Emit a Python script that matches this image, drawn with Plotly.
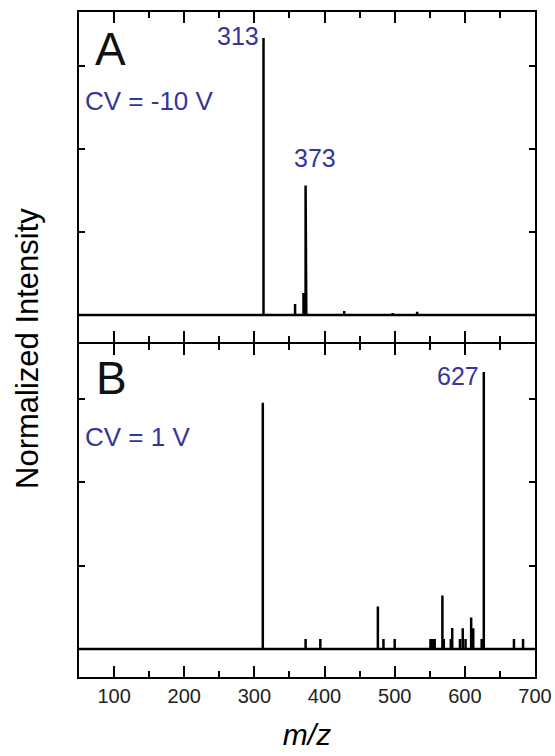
import plotly.graph_objects as go

# ---- data ----
mz_a = [313, 358, 370, 373, 374, 428, 497, 532]
int_a = [0.834, 0.033, 0.066, 0.39, 0.295, 0.012, 0.006, 0.010]

mz_b = [312, 373, 394, 476, 484, 500, 551, 553, 555, 557, 568, 570, 580, 582,
        593, 597, 601, 609, 612, 624, 627, 670, 683]
int_b = [0.737, 0.03, 0.03, 0.127, 0.03, 0.03, 0.03, 0.03, 0.03, 0.03, 0.16, 0.03,
         0.03, 0.063, 0.03, 0.062, 0.03, 0.094, 0.062, 0.03, 0.829, 0.03, 0.03]

x_ticks = [100, 200, 300, 400, 500, 600, 700]
x_range = [50, 700]


def sticks(mz, inten):
    xs, ys = [x_range[0]], [0]
    for m, h in sorted(zip(mz, inten)):
        xs += [m, m, m]
        ys += [0, h, 0]
    xs.append(x_range[1])
    ys.append(0)
    return xs, ys


FONT = "Liberation Sans, Arial, sans-serif"
BLUE = "#35359a"

fig = go.Figure()
xa, ya = sticks(mz_a, int_a)
xb, yb = sticks(mz_b, int_b)
fig.add_trace(go.Scatter(x=xa, y=ya, mode="lines", line=dict(color="black", width=2.5),
                         xaxis="x", yaxis="y", showlegend=False, hoverinfo="skip"))
fig.add_trace(go.Scatter(x=xb, y=yb, mode="lines", line=dict(color="black", width=2.5),
                         xaxis="x2", yaxis="y2", showlegend=False, hoverinfo="skip"))

H = 665.0
# panel A: 12..342 px, panel B: 344..677 px (axis lines meet at 343)
dom_a = [(677 - 342) / H, 1]
dom_b = [0, (677 - 344) / H]

common_x = dict(range=x_range, showgrid=False, zeroline=False, showline=True,
                linecolor="black", linewidth=2, mirror="allticks", ticks="inside",
                ticklen=11, tickwidth=2, tickcolor="black", tickvals=x_ticks,
                automargin=False,
                minor=dict(ticks="inside", ticklen=6, tickwidth=2, tickcolor="black", dtick=50,
                           tick0=0),
                tickfont=dict(family=FONT, size=20, color="#222"))
common_y = dict(showgrid=False, zeroline=False, showline=True, linecolor="black",
                linewidth=2, mirror="allticks", ticks="inside", ticklen=6, tickwidth=2,
                tickcolor="black", tickvals=[0, 0.25, 0.5, 0.75], showticklabels=False,
                automargin=False)

fig.update_layout(
    width=555, height=756,
    margin=dict(l=79, r=20, t=12, b=79),
    paper_bgcolor="white", plot_bgcolor="white",
    xaxis=dict(common_x, domain=[0, 1], anchor="y", showticklabels=False),
    yaxis=dict(common_y, domain=dom_a, anchor="x", range=[-27 / 332, 303 / 332]),
    xaxis2=dict(common_x, domain=[0, 1], anchor="y2", showticklabels=True,
                title=dict(text="<i>m/z</i>", font=dict(family=FONT, size=30, color="black"),
                           standoff=18)),
    yaxis2=dict(common_y, domain=dom_b, anchor="x2", range=[-28 / 334, 305 / 334]),
)

ann = []
def add(text, x, y, xref, yref, size, color, xanchor="center"):
    ann.append(dict(text=text, x=x, y=y, xref=xref, yref=yref, showarrow=False,
                    font=dict(family=FONT, size=size, color=color), xanchor=xanchor,
                    yanchor="middle"))

add("A", 95, 0.80, "x", "y", 46, "#111")
add("313", 277, 0.84, "x", "y", 25, BLUE)
add("373", 386, 0.473, "x", "y", 25, BLUE)
add("CV = -10 V", 55, 0.645, "x", "y", 26, BLUE, "left")
add("B", 97, 0.811, "x2", "y2", 46, "#111")
add("627", 590, 0.817, "x2", "y2", 25, BLUE)
add("CV = 1 V", 55, 0.635, "x2", "y2", 26, BLUE, "left")
ann.append(dict(text="Normalized Intensity", x=(27 - 79) / 456, y=(677 - 349) / 665,
                xref="paper", yref="paper", showarrow=False, textangle=-90,
                font=dict(family=FONT, size=31, color="black"),
                xanchor="center", yanchor="middle"))
fig.update_layout(annotations=ann)

fig.write_html("out.html")
